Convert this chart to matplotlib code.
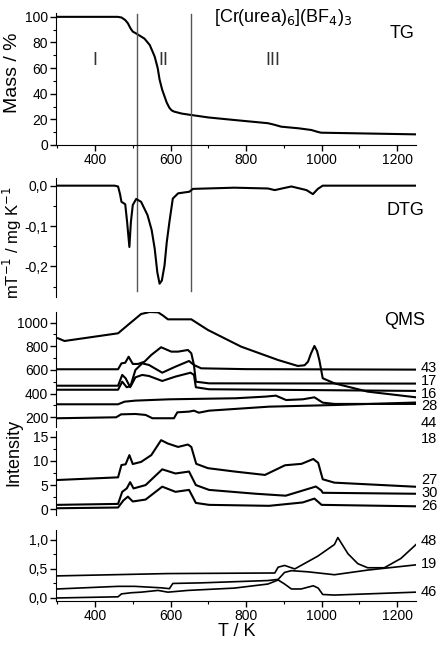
import numpy as np
import matplotlib
matplotlib.use("Agg")
import matplotlib.pyplot as plt
from matplotlib.ticker import MultipleLocator, FuncFormatter

plt.rcParams['font.family'] = ['Liberation Sans', 'DejaVu Sans']

# --- TG ---
tg_T = [300, 460, 470, 480, 487, 494, 500, 509, 520, 531, 545, 558, 566, 571, 578, 584, 590, 597,
        603, 610, 630, 655, 700, 769, 858, 875, 893, 940, 973, 990, 999, 1250]
tg_m = [100, 100, 99.5, 97.5, 95, 91, 88.5, 87, 85, 83, 78, 69, 60, 51, 43, 38, 33, 29,
        27, 26, 24.5, 23.4, 21.5, 19.5, 17, 15.8, 14.3, 13, 11.7, 10.2, 9.6, 8.3]

# --- DTG ---
dtg_T = [300, 452, 461, 466, 470, 480, 485, 491, 495, 500, 509, 522, 539, 550, 558, 565, 571, 577,
         584, 590, 597, 606, 620, 650, 659, 769, 858, 876, 900, 920, 960, 977, 990, 1003, 1250]
dtg_v = [0, 0, -0.002, -0.02, -0.04, -0.046, -0.09, -0.152, -0.09, -0.048, -0.033, -0.04, -0.073,
         -0.11, -0.156, -0.215, -0.243, -0.235, -0.198, -0.14, -0.09, -0.032, -0.019, -0.015,
         -0.008, -0.005, -0.007, -0.011, -0.006, -0.002, -0.011, -0.021, -0.008, 0, 0]

# --- QMS, upper panel ---
big_T = [302, 319, 461, 487, 522, 545, 567, 580, 593, 655, 699, 787, 885, 937, 955, 964, 972, 981,
         988, 994, 1003, 1034, 1122, 1250]
big_v = [868, 845, 910, 980, 1073, 1090, 1087, 1060, 1028, 1028, 938, 797, 684, 634, 640, 670, 740,
         803, 760, 684, 530, 487, 417, 369]

m43_T = [300, 461, 470, 480, 489, 500, 514, 531, 549, 575, 602, 620, 646, 655, 662, 681, 800, 1250]
m43_v = [606, 606, 656, 661, 712, 651, 651, 670, 727, 792, 755, 755, 769, 741, 642, 614, 607, 603]

m17_T = [300, 461, 472, 481, 493, 507, 525, 543, 578, 613, 649, 662, 667, 702, 1250]
m17_v = [467, 467, 558, 530, 454, 600, 656, 642, 577, 628, 676, 642, 501, 487, 485]

m16_T = [300, 461, 472, 484, 495, 507, 525, 543, 578, 613, 653, 662, 667, 702, 1250]
m16_v = [433, 433, 501, 454, 465, 538, 558, 549, 507, 544, 577, 558, 454, 437, 423]

m28_T = [300, 461, 478, 507, 596, 773, 852, 879, 906, 950, 981, 1003, 1034, 1250]
m28_v = [310, 310, 332, 341, 352, 361, 375, 383, 346, 352, 369, 324, 313, 313]

m44_T = [300, 456, 469, 507, 534, 552, 609, 618, 649, 662, 675, 702, 861, 1037, 1250]
m44_v = [192, 200, 225, 228, 220, 192, 192, 242, 248, 256, 239, 256, 290, 304, 325]

# --- QMS, middle panel ---
m18_T = [300, 461, 470, 481, 491, 500, 522, 549, 575, 593, 620, 646, 655, 668, 699, 770, 850, 903,
         947, 978, 991, 1003, 1034, 1250]
m18_v = [6.05, 6.6, 9.15, 9.3, 11.2, 9.36, 9.8, 11.2, 14.3, 13.6, 12.9, 13.4, 12.9, 9.4, 8.5, 7.8,
         7.1, 9.1, 9.4, 10.4, 9.6, 6.2, 5.5, 4.65]

m27_T = [300, 461, 472, 484, 493, 502, 534, 578, 613, 649, 667, 702, 826, 905, 985, 999, 1003, 1250]
m27_v = [0.9, 1.1, 3.6, 4.3, 5.6, 4.3, 5.0, 8.26, 7.4, 7.8, 5.0, 4.0, 3.2, 2.8, 4.7, 3.9, 3.4, 3.2]

m26_T = [300, 461, 475, 487, 500, 534, 578, 613, 649, 667, 702, 861, 950, 981, 1000, 1250]
m26_v = [0.2, 0.35, 1.8, 2.6, 1.6, 2.0, 4.67, 3.6, 4.0, 1.3, 0.9, 0.7, 1.4, 2.2, 0.9, 0.6]

# --- QMS, lower panel ---
m48_T = [300, 593, 876, 885, 902, 929, 990, 1034, 1043, 1070, 1096, 1122, 1166, 1210, 1250]
m48_v = [0.38, 0.42, 0.43, 0.53, 0.56, 0.5, 0.72, 0.92, 1.04, 0.76, 0.59, 0.52, 0.52, 0.68, 0.92]

m19_T = [300, 461, 505, 575, 597, 606, 681, 858, 885, 902, 920, 964, 1034, 1122, 1250]
m19_v = [0.155, 0.2, 0.2, 0.175, 0.16, 0.25, 0.26, 0.3, 0.32, 0.44, 0.47, 0.45, 0.4, 0.48, 0.57]

m46_T = [300, 461, 470, 496, 522, 567, 593, 646, 769, 858, 885, 902, 920, 946, 978, 991, 1003, 1034, 1250]
m46_v = [0.0, 0.02, 0.07, 0.09, 0.1, 0.13, 0.1, 0.13, 0.17, 0.24, 0.31, 0.24, 0.155, 0.155, 0.21,
         0.17, 0.06, 0.05, 0.1]

region_T = [510, 655]

W, H = 443, 649
fig = plt.figure(figsize=(W / 100, H / 100), dpi=100)


def add_ax(top, bottom, left=56.5, right=416):
    return fig.add_axes([left / W, 1 - bottom / H, (right - left) / W, (bottom - top) / H])


def comma(x, pos):
    return ('%.1f' % x).replace('.', ',')


ax_tg = add_ax(13, 145)
ax_dtg = add_ax(178, 297)
ax_q1 = add_ax(312, 427)
ax_q2 = add_ax(431, 515)
ax_q3 = add_ax(530, 600.7)

lw = 1.5
ax_tg.plot(tg_T, tg_m, color='black', lw=lw)
ax_dtg.plot(dtg_T, dtg_v, color='black', lw=lw)
for T, v in [(big_T, big_v), (m43_T, m43_v), (m17_T, m17_v), (m16_T, m16_v),
             (m28_T, m28_v), (m44_T, m44_v)]:
    ax_q1.plot(T, v, color='black', lw=lw)
for T, v in [(m18_T, m18_v), (m27_T, m27_v), (m26_T, m26_v)]:
    ax_q2.plot(T, v, color='black', lw=lw)
for T, v in [(m48_T, m48_v), (m19_T, m19_v), (m46_T, m46_v)]:
    ax_q3.plot(T, v, color='black', lw=1.2)

for ax in [ax_tg, ax_dtg, ax_q1, ax_q2, ax_q3]:
    ax.set_xlim(298, 1250)
    ax.patch.set_alpha(0)
    ax.spines['top'].set_visible(False)
    ax.spines['right'].set_visible(False)
    ax.tick_params(direction='out', length=4, width=1, labelsize=10, pad=2)
    ax.tick_params(which='minor', direction='out', length=2.5, width=0.8)
    ax.xaxis.set_major_locator(MultipleLocator(200))
    ax.xaxis.set_minor_locator(MultipleLocator(100))

for ax in [ax_dtg, ax_q1, ax_q2]:
    ax.spines['bottom'].set_visible(False)
    ax.tick_params(axis='x', which='both', bottom=False, labelbottom=False)

ax_tg.set_ylim(0, 103)
ax_tg.yaxis.set_major_locator(MultipleLocator(20))
ax_tg.yaxis.set_minor_locator(MultipleLocator(10))
ax_tg.set_ylabel('Mass / %', fontsize=14)
ax_tg.yaxis.set_label_coords(-0.1, 0.55)

ax_dtg.set_ylim(-0.276, 0.019)
ax_dtg.yaxis.set_major_locator(MultipleLocator(0.1))
ax_dtg.yaxis.set_minor_locator(MultipleLocator(0.05))
ax_dtg.yaxis.set_major_formatter(FuncFormatter(comma))
ax_dtg.set_ylabel('mT$^{-1}$ / mg K$^{-1}$', fontsize=12)
ax_dtg.yaxis.set_label_coords(-0.09, 0.46)

ax_q1.set_ylim(118, 1090)
ax_q1.yaxis.set_major_locator(MultipleLocator(200))
ax_q1.yaxis.set_minor_locator(MultipleLocator(100))

ax_q2.set_ylim(-1.2, 16.2)
ax_q2.yaxis.set_major_locator(MultipleLocator(5))
ax_q2.yaxis.set_minor_locator(MultipleLocator(2.5))

ax_q3.set_ylim(-0.047, 1.17)
ax_q3.yaxis.set_major_locator(MultipleLocator(0.5))
ax_q3.yaxis.set_minor_locator(MultipleLocator(0.25))
ax_q3.yaxis.set_major_formatter(FuncFormatter(comma))
ax_q3.set_xlabel('T / K', fontsize=13, labelpad=0)

# region dividers through TG and DTG
for T in region_T:
    ax_tg.axvline(T, ymin=(145 - 291) / 132, ymax=(145 - 14) / 132, color='#555555',
                  lw=1.0, clip_on=False)

ax_tg.text(400, 66, 'I', fontsize=13, ha='center', va='center', color='#333333')
ax_tg.text(582, 66, 'II', fontsize=13, ha='center', va='center', color='#333333')
ax_tg.text(872, 66, 'III', fontsize=13, ha='center', va='center', color='#333333')

fig.text(283 / W, 1 - 17 / H, '[Cr(urea)$_6$](BF$_4$)$_3$', fontsize=13, ha='center', va='center')
fig.text(402 / W, 1 - 33 / H, 'TG', fontsize=13, ha='center', va='center')
fig.text(405 / W, 1 - 210 / H, 'DTG', fontsize=13, ha='center', va='center')
fig.text(405 / W, 1 - 320 / H, 'QMS', fontsize=13, ha='center', va='center')
fig.text(14 / W, 1 - 452 / H, 'Intensity', fontsize=13, ha='center', va='center', rotation=90)

mz_labels = ['43', '17', '16', '28', '44', '18', '27', '30', '26', '48', '19', '46']
mz_y = [368, 381, 393.5, 406.5, 423, 439, 480, 493, 506, 541, 564, 592]
for lab, y in zip(mz_labels, mz_y):
    fig.text(421 / W, 1 - y / H, lab, fontsize=10.5, ha='left', va='center')

fig.savefig('out.png', dpi=100)
